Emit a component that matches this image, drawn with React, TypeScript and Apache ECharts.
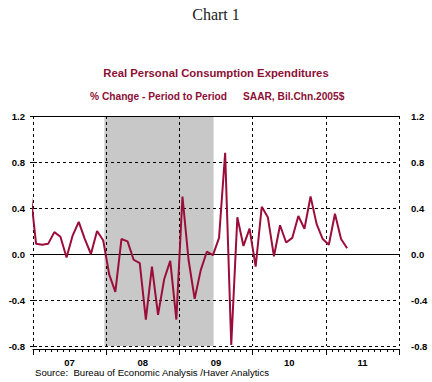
import React, { useEffect, useRef } from "react";
import * as echarts from "echarts";

// Months counted from Jan 2007 (0); first value is Dec 2006
const firstMonth = -1;
const pceChange = [
  0.58,
  0.09, 0.08, 0.09, 0.19, 0.15, -0.03, 0.16, 0.28, 0.13, 0.0, 0.2, 0.12,
  -0.18, -0.33, 0.13, 0.11, -0.05, -0.08, -0.57, -0.11, -0.53, -0.22, -0.06, -0.57,
  0.5, -0.05, -0.39, -0.14, 0.02, -0.01, 0.14, 0.88, -0.79, 0.32, 0.07, 0.22,
  -0.11, 0.41, 0.32, -0.02, 0.25, 0.1, 0.14, 0.33, 0.22, 0.5, 0.26, 0.13,
  0.08, 0.35, 0.13, 0.05,
];
const yearLabels = ["07", "08", "09", "10", "11"];
const recessionStart = 11.7;
const recessionEnd = 29.6;
const yMin = -0.8;
const yMax = 1.2;
const yStep = 0.4;

const RED = "#9B0D3A";
const TITLE_RED = "#8C1035";
const SANS = "'Liberation Sans', Arial, sans-serif";

export default function App() {
  const ref = useRef<HTMLDivElement>(null);
  useEffect(() => {
    const chart = echarts.init(ref.current!, null, { renderer: "svg" });
    const data = pceChange.map((v, k) => [firstMonth + k + 0.5, v]);
    const yFmt = (v: number) => (Math.abs(v) < 1e-9 ? "0.0" : v.toFixed(1));
    const option: any = {
      animation: false,
      backgroundColor: "#ffffff",
      graphic: [
        {
          type: "text", x: 216, y: 14,
          style: { text: "Chart 1", font: "16px 'Liberation Serif', 'Times New Roman', serif", fill: "#222", textAlign: "center", textVerticalAlign: "middle" },
        },
        {
          type: "text", x: 216, y: 73,
          style: { text: "Real Personal Consumption Expenditures", font: `bold 11.3px ${SANS}`, fill: TITLE_RED, textAlign: "center", textVerticalAlign: "middle" },
        },
        {
          type: "text", x: 90, y: 96,
          style: { text: "% Change - Period to Period", font: `bold 10.2px ${SANS}`, fill: TITLE_RED, textAlign: "left", textVerticalAlign: "middle" },
        },
        {
          type: "text", x: 243, y: 96,
          style: { text: "SAAR, Bil.Chn.2005$", font: `bold 10.2px ${SANS}`, fill: TITLE_RED, textAlign: "left", textVerticalAlign: "middle" },
        },
        {
          type: "text", x: 35, y: 372,
          style: { text: "Source:  Bureau of Economic Analysis /Haver Analytics", font: `9.6px ${SANS}`, fill: "#000", textAlign: "left", textVerticalAlign: "middle" },
        },
      ],
      grid: { left: 33, right: 33, top: 116, bottom: 36 },
      xAxis: [
        {
          type: "value", min: 0, max: 60, interval: 12, position: "bottom", offset: 3, z: 3,
          axisLine: { show: true, onZero: false, lineStyle: { color: "#000", width: 1 } },
          axisTick: { show: true, inside: false, length: 6, lineStyle: { color: "#000", width: 1 } },
          minorTick: { show: true, splitNumber: 12, length: 3, lineStyle: { color: "#000", width: 1 } },
          axisLabel: { show: false },
          splitLine: { show: true, lineStyle: { color: "#000", type: [3, 3], width: 1 } },
        },
        {
          type: "value", min: 0, max: 60, interval: 6, position: "bottom", offset: 3,
          axisLine: { show: false, onZero: false },
          axisTick: { show: false },
          splitLine: { show: false },
          axisLabel: {
            margin: 8, fontSize: 9.5, fontWeight: "bold", color: "#000", fontFamily: SANS,
            formatter: (v: number) => {
              const k = (v - 6) / 12;
              return Number.isInteger(k) && yearLabels[k] ? yearLabels[k] : "";
            },
          },
        },
      ],
      yAxis: [
        {
          type: "value", min: yMin, max: yMax, interval: yStep, position: "left", z: 3,
          axisLine: { show: false },
          axisTick: { show: true, length: 3, lineStyle: { color: "#000" } },
          axisLabel: { formatter: yFmt, fontSize: 9.5, fontWeight: "bold", color: "#000", margin: 8, fontFamily: SANS },
          splitLine: { show: true, lineStyle: { color: "#000", type: [3, 3], width: 1 } },
        },
        {
          type: "value", min: yMin, max: yMax, interval: yStep, position: "right", z: 3,
          axisLine: { show: false },
          axisTick: { show: true, length: 4, lineStyle: { color: "#000" } },
          axisLabel: { formatter: yFmt, fontSize: 9.5, fontWeight: "bold", color: "#000", margin: 12, fontFamily: SANS },
          splitLine: { show: false },
        },
      ],
      series: [
        {
          type: "line", z: 1, data: [[0, 0]], symbol: "none", silent: true,
          lineStyle: { width: 0 },
          markArea: {
            silent: true,
            itemStyle: { color: "#C8C8C8" },
            data: [[{ xAxis: recessionStart }, { xAxis: recessionEnd }]],
          },
        },
        {
          type: "line", z: 4, data: [[0, 0]], symbol: "none", silent: true,
          lineStyle: { width: 0 },
          markLine: {
            silent: true, symbol: "none", label: { show: false },
            lineStyle: { color: "#000", type: "solid", width: 1 },
            data: [{ yAxis: 0 }, { yAxis: yMax }],
          },
        },
        {
          type: "line", z: 5, data, symbol: "none", silent: true,
          lineStyle: { color: RED, width: 2 },
        },
      ],
    };
    chart.setOption(option);
    return () => chart.dispose();
  }, []);
  return <div ref={ref} style={{ position: "fixed", left: 0, top: 0, width: 432, height: 382 }} />;
}
